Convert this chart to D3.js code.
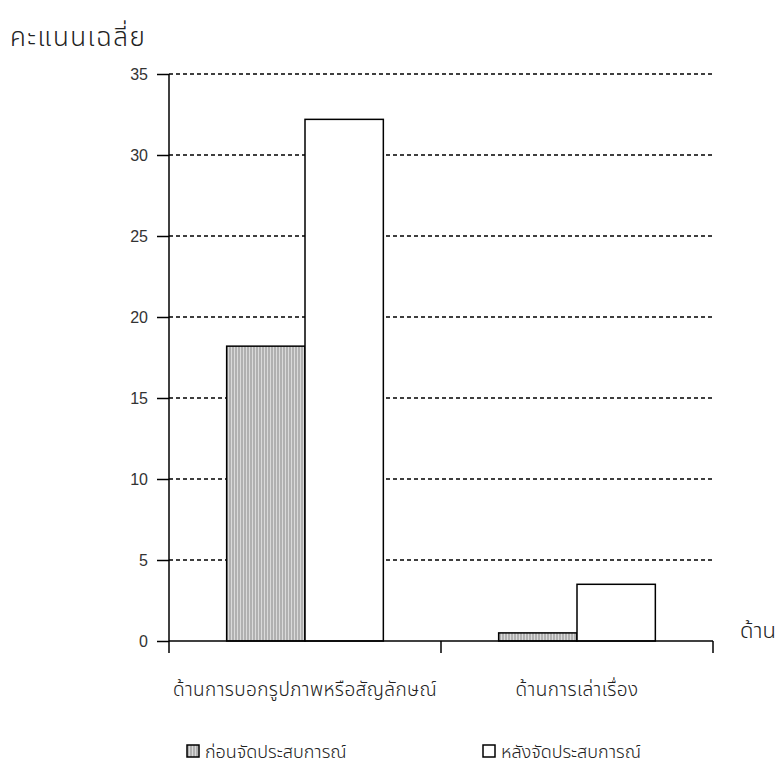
<!DOCTYPE html>
<html>
<head>
<meta charset="utf-8">
<script src="https://cdn.jsdelivr.net/npm/d3@7"></script>
<style>
  body { margin: 0; background: #fff; }
  text { font-family: "Noto Sans Thai", "Noto Sans", "DejaVu Sans", sans-serif; fill: #222; font-weight: 300; }
  .num { font-family: "Liberation Sans", Arial, sans-serif; fill: #333; font-weight: 400; }
</style>
</head>
<body>
<script>
// data
var categories = ["ด้านการบอกรูปภาพหรือสัญลักษณ์", "ด้านการเล่าเรื่อง"];
var seriesNames = ["ก่อนจัดประสบการณ์", "หลังจัดประสบการณ์"];
var beforeValues = [18.2, 0.5];
var afterValues = [32.2, 3.5];
var yTicks = [0, 5, 10, 15, 20, 25, 30, 35];

var W = 779, H = 765;
var margin = {top: 74, right: 66, bottom: 124, left: 169};
var width = W - margin.left - margin.right;
var height = H - margin.top - margin.bottom;

var svg = d3.select("body").append("svg")
    .attr("width", W)
    .attr("height", H);

// stripe pattern for the grey bars
var pat = svg.append("defs").append("pattern")
    .attr("id", "stripes")
    .attr("patternUnits", "userSpaceOnUse")
    .attr("width", 3).attr("height", 3);
pat.append("rect").attr("width", 3).attr("height", 3).attr("fill", "#dadada");
pat.append("rect").attr("width", 2).attr("height", 3).attr("fill", "#b0b0b0");

var g = svg.append("g")
    .attr("transform", "translate(" + margin.left + "," + margin.top + ")");

var x = d3.scaleBand().domain(categories).range([0, width]);
var y = d3.scaleLinear().domain([0, 35]).range([height, 0]);
var barW = x.bandwidth() * 0.288;
var pad = (x.bandwidth() - 2 * barW) / 2;

// gridlines
g.selectAll(".grid").data(yTicks.filter(function(d){ return d > 0; }))
  .enter().append("line")
    .attr("x1", 0).attr("x2", width)
    .attr("y1", function(d){ return y(d); })
    .attr("y2", function(d){ return y(d); })
    .attr("stroke", "#000")
    .attr("stroke-width", 1.3)
    .attr("stroke-dasharray", "4,3");

// bars
var data = categories.map(function(c, i){
    return {cat: c, before: beforeValues[i], after: afterValues[i]};
});

g.selectAll(".before").data(data).enter().append("rect")
    .attr("x", function(d){ return x(d.cat) + pad; })
    .attr("y", function(d){ return y(d.before); })
    .attr("width", barW)
    .attr("height", function(d){ return height - y(d.before); })
    .attr("fill", "url(#stripes)")
    .attr("stroke", "#000").attr("stroke-width", 1.5);

g.selectAll(".after").data(data).enter().append("rect")
    .attr("x", function(d){ return x(d.cat) + pad + barW; })
    .attr("y", function(d){ return y(d.after); })
    .attr("width", barW)
    .attr("height", function(d){ return height - y(d.after); })
    .attr("fill", "#fff")
    .attr("stroke", "#000").attr("stroke-width", 1.5);

// y axis
var yAxis = g.append("g")
    .call(d3.axisLeft(y).tickValues(yTicks).tickSize(12).tickPadding(9));
yAxis.select(".domain").attr("stroke-width", 1.5).attr("d", "M0," + height + "V0");
yAxis.selectAll(".tick line").attr("stroke-width", 1.5);
yAxis.selectAll("text").attr("class", "num").style("font-size", "16px");

// x axis
var xEdges = [0, width / 2, width];
var xAxis = g.append("g").attr("transform", "translate(0," + height + ")");
xAxis.append("line").attr("x1", 0).attr("x2", width)
    .attr("stroke", "#000").attr("stroke-width", 1.5);
xAxis.selectAll(".xt").data(xEdges).enter().append("line")
    .attr("x1", function(d){ return d; }).attr("x2", function(d){ return d; })
    .attr("y1", 0).attr("y2", 12)
    .attr("stroke", "#000").attr("stroke-width", 1.5);
xAxis.selectAll(".xl").data(categories).enter().append("text")
    .attr("x", function(d){ return x(d) + x.bandwidth() / 2; })
    .attr("y", 55)
    .attr("text-anchor", "middle")
    .style("font-size", "19px")
    .style("letter-spacing", "0.4px")
    .text(function(d){ return d; });

// axis titles
svg.append("text").attr("x", 10).attr("y", 46)
    .style("font-size", "26px")
    .style("letter-spacing", "1.5px")
    .text("คะแนนเฉลี่ย");
svg.append("text").attr("x", 740).attr("y", 638)
    .style("font-size", "22px").text("ด้าน");

// legend
var legendX = [187, 483];
var lg = svg.selectAll(".lg").data(seriesNames).enter().append("g")
    .attr("transform", function(d, i){ return "translate(" + legendX[i] + ",745)"; });
lg.append("rect").attr("width", 12).attr("height", 12)
    .attr("fill", function(d, i){ return i === 0 ? "url(#stripes)" : "#fff"; })
    .attr("stroke", "#000").attr("stroke-width", 1.5);
lg.append("text").attr("x", 18).attr("y", 13)
    .style("font-size", "18px")
    .text(function(d){ return d; });
</script>
</body>
</html>
